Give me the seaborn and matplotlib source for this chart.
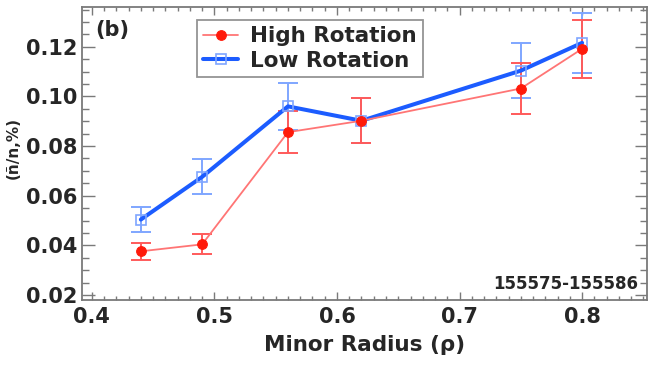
import matplotlib
matplotlib.use("Agg")
import matplotlib.pyplot as plt
import seaborn as sns
import pandas as pd
from matplotlib.ticker import MultipleLocator

radius = [0.44, 0.49, 0.56, 0.62, 0.75, 0.80]
high_rot = [0.0376, 0.0404, 0.0856, 0.0902, 0.1032, 0.1192]
high_err = [0.0034, 0.0040, 0.0084, 0.0090, 0.0104, 0.0116]
low_rot = [0.0504, 0.0676, 0.0960, 0.0902, 0.1104, 0.1216]
low_err = [0.0050, 0.0070, 0.0096, 0.0090, 0.0110, 0.0122]
series_names = ["High Rotation", "Low Rotation"]
x_ticks = [0.4, 0.5, 0.6, 0.7, 0.8]
x_tick_labels = ["0.4", "0.5", "0.6", "0.7", "0.8"]
y_ticks = [0.02, 0.04, 0.06, 0.08, 0.10, 0.12]
y_tick_labels = ["0.02", "0.04", "0.06", "0.08", "0.10", "0.12"]

sns.set_style("ticks")
plt.rcParams['font.family'] = ['DejaVu Sans']
plt.rcParams['font.weight'] = 'bold'

df = pd.DataFrame({
    "radius": radius * 2,
    "value": high_rot + low_rot,
    "err": high_err + low_err,
    "series": [series_names[0]] * len(radius) + [series_names[1]] * len(radius),
})

fig = plt.figure(figsize=(6.54, 3.74), dpi=100)
ax = fig.add_axes([0.1254, 0.198, 0.864, 0.783])

red = "#ff1a0a"
red_line = "#ff7575"
red_err = "#ff5a5a"
blue = "#1c5cff"
blue_light = "#7fa6ff"

sub_h = df[df.series == series_names[0]]
sub_l = df[df.series == series_names[1]]

ax.errorbar(sub_l.radius, sub_l.value, yerr=sub_l.err, fmt="none", ecolor=blue_light,
            elinewidth=1.4, capsize=7, capthick=1.4, zorder=2)
ax.errorbar(sub_h.radius, sub_h.value, yerr=sub_h.err, fmt="none", ecolor=red_err,
            elinewidth=1.4, capsize=7, capthick=1.4, zorder=2)

sns.lineplot(data=sub_l, x="radius", y="value", color=blue, linewidth=2.9, ax=ax,
             marker="s", markersize=7, markerfacecolor="none", markeredgecolor=blue_light,
             markeredgewidth=1.2, label=series_names[1], zorder=3)
sns.lineplot(data=sub_h, x="radius", y="value", color=red_line, linewidth=1.3, ax=ax,
             marker="o", markersize=7, markerfacecolor=red, markeredgecolor=red,
             label=series_names[0], zorder=4)

ax.set_xlim(0.392, 0.853)
ax.set_ylim(0.018, 0.136)
ax.xaxis.set_minor_locator(MultipleLocator(0.01))
ax.yaxis.set_minor_locator(MultipleLocator(0.005))
ax.set_xticks(x_ticks)
ax.set_xticklabels(x_tick_labels)
ax.set_yticks(y_ticks)
ax.set_yticklabels(y_tick_labels)

grey = "#7a7a7a"
ax.tick_params(which="both", direction="in", top=True, right=True, bottom=True, left=True,
               color=grey, labelsize=15, width=1)
ax.tick_params(axis="x", which="major", length=6, pad=5)
ax.tick_params(axis="x", which="minor", length=3)
ax.tick_params(axis="y", which="major", length=9, pad=3)
ax.tick_params(axis="y", which="minor", length=5)
for lbl in ax.get_xticklabels() + ax.get_yticklabels():
    lbl.set_fontweight("bold")
for s in ax.spines.values():
    s.set_color(grey)
    s.set_linewidth(1.3)

ax.set_xlabel("Minor Radius (ρ)", fontsize=15.5, fontweight="bold", labelpad=6)
ax.set_ylabel("(ñ/n,%)", fontsize=11, fontweight="bold")
ax.yaxis.set_label_coords(-0.108, 0.52)

ax.text(0.023, 0.955, "(b)", transform=ax.transAxes, fontsize=15, fontweight="bold",
        va="top", ha="left")
ax.text(0.984, 0.0375, "155575-155586", transform=ax.transAxes, fontsize=12,
        fontweight="bold", va="baseline", ha="right")

handles, labels = ax.get_legend_handles_labels()
order = [labels.index(series_names[0]), labels.index(series_names[1])]
leg = ax.legend([handles[i] for i in order], [labels[i] for i in order],
                loc="upper left", bbox_to_anchor=(0.2035, 0.956), fontsize=15.5,
                frameon=True, fancybox=False, edgecolor=grey,
                borderpad=0.3, labelspacing=0.2, handlelength=1.6,
                handletextpad=0.55, borderaxespad=0)
leg.get_frame().set_linewidth(1.3)
for t in leg.get_texts():
    t.set_fontweight("bold")

fig.savefig("out.png", dpi=100)
